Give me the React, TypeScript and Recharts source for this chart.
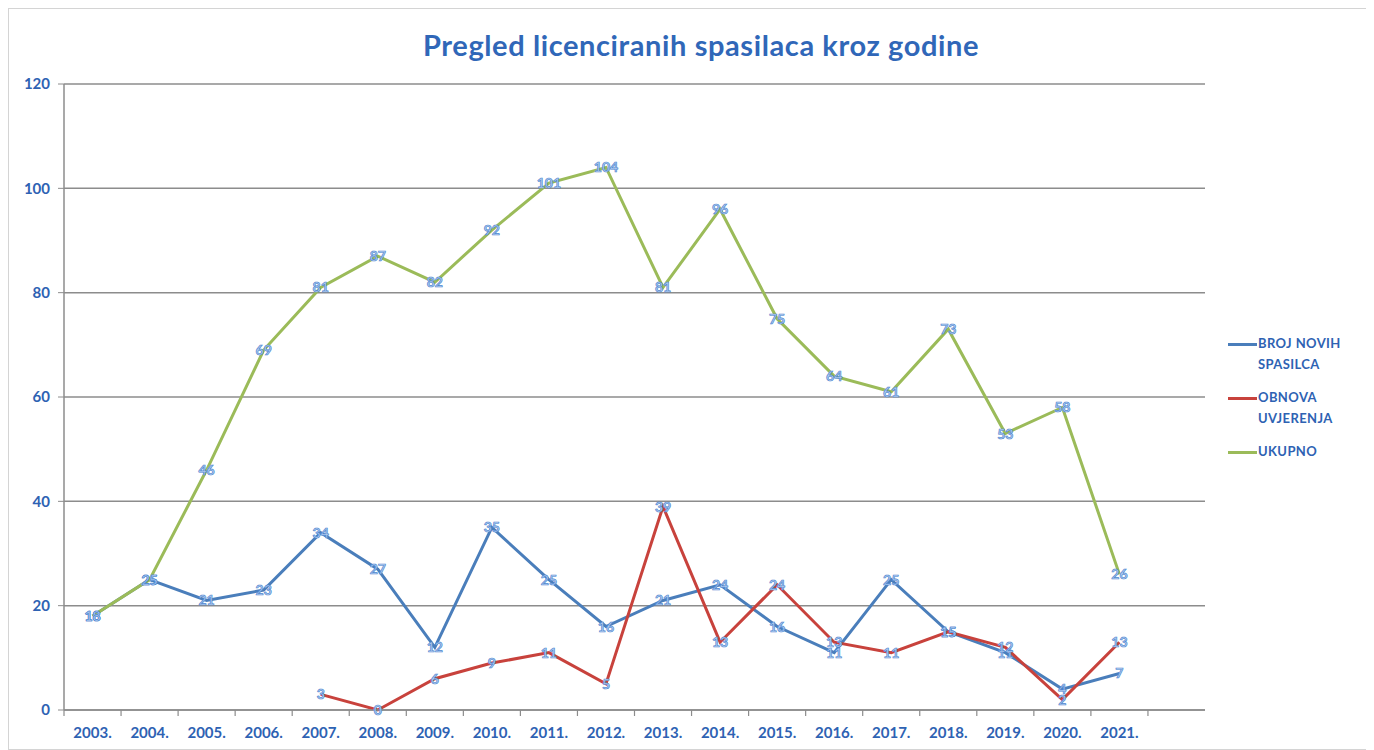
import { LineChart, Line, XAxis, YAxis, CartesianGrid, LabelList } from "recharts";

const years = [
  "2003.", "2004.", "2005.", "2006.", "2007.", "2008.", "2009.", "2010.", "2011.", "2012.",
  "2013.", "2014.", "2015.", "2016.", "2017.", "2018.", "2019.", "2020.", "2021.", "",
];
const brojNovih = [18, 25, 21, 23, 34, 27, 12, 35, 25, 16, 21, 24, 16, 11, 25, 15, 11, 4, 7, null];
const obnova = [null, null, null, null, 3, 0, 6, 9, 11, 5, 39, 13, 24, 13, 11, 15, 12, 2, 13, null];
const ukupno = [18, 25, 46, 69, 81, 87, 82, 92, 101, 104, 81, 96, 75, 64, 61, 73, 53, 58, 26, null];
const yTicks = [0, 20, 40, 60, 80, 100, 120];

const data = years.map((year, i) => ({
  year,
  novi: brojNovih[i],
  obnova: obnova[i],
  ukupno: ukupno[i],
}));

const W = 1360;
const H = 740;
const margin = { top: 75, right: 164, bottom: 9, left: 10 };
const yAxisWidth = 45;
const band = (W - margin.left - yAxisWidth - margin.right) / years.length;

const TEXT_BLUE = "#2e62b3";
const FONT = "Lato, 'Open Sans', sans-serif";

function XTick(props: any) {
  const { x, y, payload } = props;
  const axisY = y - 8;
  const left = x - band / 2;
  return (
    <g>
      <line x1={left} y1={axisY} x2={left} y2={axisY + 6} stroke="#8c8c8c" strokeWidth={1.2} />
      <text x={x} y={axisY + 28} textAnchor="middle" fill={TEXT_BLUE} fontSize={15} fontWeight={700} fontFamily={FONT}>
        {payload.value}
      </text>
    </g>
  );
}

function PointLabel(props: any) {
  const { x, y, value } = props;
  if (value === null || value === undefined) return null;
  return (
    <text
      x={x}
      y={y}
      dy={5}
      textAnchor="middle"
      fill="#b4d0f2"
      stroke="#4f86d0"
      strokeWidth={0.7}
      fontSize={14}
      fontWeight={700}
      fontFamily={FONT}
    >
      {value}
    </text>
  );
}

const legendItems = [
  { color: "#4a7ebb", lines: ["BROJ NOVIH", "SPASILCA"] },
  { color: "#c8423c", lines: ["OBNOVA", "UVJERENJA"] },
  { color: "#9bbb59", lines: ["UKUPNO"] },
];

export default function App() {
  return (
    <div
      style={{
        position: "relative",
        width: W + 2,
        height: H + 2,
        border: "1px solid #d4d4d4",
        boxSizing: "border-box",
        background: "#fff",
        fontFamily: FONT,
      }}
    >
      <div
        style={{
          position: "absolute",
          left: 12,
          top: 19,
          width: W,
          textAlign: "center",
          fontSize: 29,
          fontWeight: 700,
          letterSpacing: 0.6,
          color: "#3067b8",
          lineHeight: "34px",
        }}
      >
        Pregled licenciranih spasilaca kroz godine
      </div>
      <LineChart width={W} height={H} data={data} margin={margin}>
        <CartesianGrid vertical={false} stroke="#8c8c8c" strokeWidth={1.5} />
        <XAxis
          dataKey="year"
          scale="band"
          interval={0}
          height={30}
          tickLine={false}
          tickSize={6}
          tickMargin={2}
          tick={<XTick />}
          axisLine={{ stroke: "#8c8c8c", strokeWidth: 1.5 }}
        />
        <YAxis
          width={yAxisWidth}
          domain={[0, 120]}
          ticks={yTicks}
          interval={0}
          tickSize={6}
          tickMargin={8}
          tickLine={{ stroke: "#8c8c8c" }}
          axisLine={{ stroke: "#8c8c8c", strokeWidth: 1.5 }}
          tick={{ fill: TEXT_BLUE, fontSize: 15, fontWeight: 700, fontFamily: FONT }}
        />
        <Line dataKey="novi" stroke="#4a7ebb" strokeWidth={3} dot={false} isAnimationActive={false}>
          <LabelList dataKey="novi" content={<PointLabel />} />
        </Line>
        <Line dataKey="obnova" stroke="#c8423c" strokeWidth={3} dot={false} isAnimationActive={false}>
          <LabelList dataKey="obnova" content={<PointLabel />} />
        </Line>
        <Line dataKey="ukupno" stroke="#9bbb59" strokeWidth={3} dot={false} isAnimationActive={false}>
          <LabelList dataKey="ukupno" content={<PointLabel />} />
        </Line>
      </LineChart>
      <div style={{ position: "absolute", left: 1219, top: 324, width: 142 }}>
        {legendItems.map((item) => (
          <div key={item.color} style={{ display: "flex", alignItems: "flex-start", marginBottom: 12 }}>
            <div style={{ width: 29, minWidth: 29, height: 3, background: item.color, marginTop: 10, flexShrink: 0 }} />
            <div
              style={{
                color: TEXT_BLUE,
                fontSize: 13,
                fontWeight: 700,
                letterSpacing: 0.4,
                lineHeight: "21px",
                marginLeft: 1,
                whiteSpace: "nowrap",
              }}
            >
              {item.lines.map((l) => (
                <div key={l}>{l}</div>
              ))}
            </div>
          </div>
        ))}
      </div>
    </div>
  );
}
